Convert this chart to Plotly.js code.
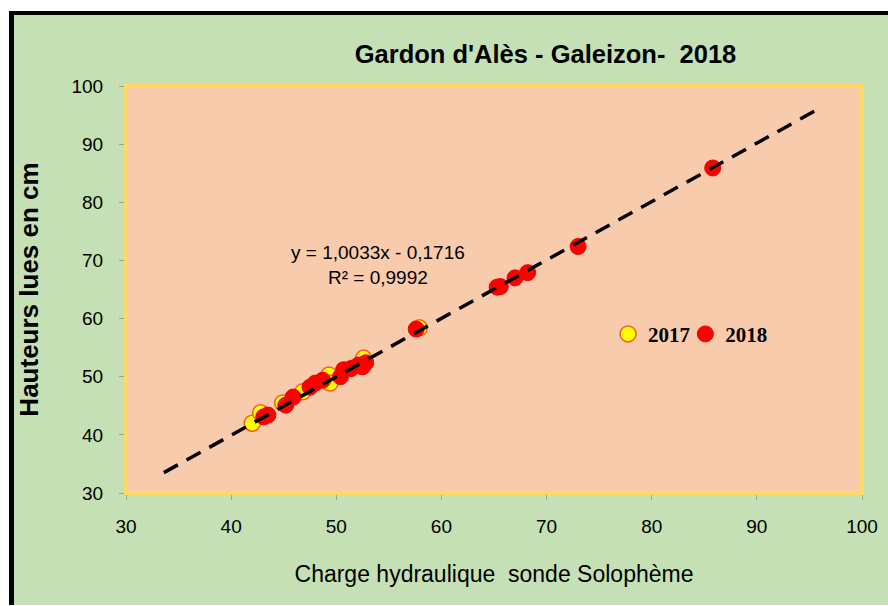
<!DOCTYPE html>
<html>
<head>
<meta charset="utf-8">
<script src="https://cdn.plot.ly/plotly-3.0.1.min.js"></script>
<style>
  html, body { margin: 0; padding: 0; background: #ffffff; width: 888px; height: 606px; overflow: hidden; }
  #frame { position: absolute; left: 9px; top: 11px; width: 879px; height: 594px; box-sizing: border-box;
           background: #C5E0B4; border-left: 5px solid #000; border-top: 4px solid #000; }
  #chart { position: absolute; left: 0; top: 0; width: 888px; height: 606px; }
</style>
</head>
<body>
<div id="frame"></div>
<div id="chart"></div>
<script>
// 2017 series (yellow)
const x2017 = [42.0, 42.8, 44.9, 46.8, 49.3, 49.4, 52.6, 57.9];
const y2017 = [42.0, 43.8, 45.5, 47.4, 50.3, 48.9, 53.2, 58.4];
// 2018 series (red)
const x2018 = [43.1, 43.5, 45.2, 45.9, 47.5, 48.0, 48.7, 50.4, 50.7, 51.4, 52.1, 52.8, 52.5, 57.6, 65.3, 65.6, 67.0, 68.2, 73.0, 85.8];
const y2018 = [43.1, 43.4, 45.1, 46.5, 48.2, 48.9, 49.4, 50.0, 51.2, 51.4, 52.0, 52.4, 51.7, 58.2, 65.4, 65.5, 67.0, 67.9, 72.4, 85.9];
// Linear trend line endpoints (y = 1,0033x - 0,1716)
const trendX = [33.6, 95.8];
const trendY = [33.5, 96.0];
const xTicks = [30, 40, 50, 60, 70, 80, 90, 100];
const yTicks = [30, 40, 50, 60, 70, 80, 90, 100];
const titleText = "Gardon d'Alès - Galeizon-  2018";
const xTitle = "Charge hydraulique  sonde Solophème";
const yTitle = "Hauteurs lues en cm";
const eqText = "y = 1,0033x - 0,1716<br>R² = 0,9992";

const sans = "'Liberation Sans', Arial, sans-serif";
const legFont = { family: "'Liberation Serif', 'Times New Roman', serif", size: 21, color: '#000', weight: 'bold' };

const traces = [
  { x: x2017, y: y2017, type: 'scatter', mode: 'markers', name: '2017', legend: 'legend',
    marker: { color: '#FFFF00', size: 16, line: { color: '#FF5A1F', width: 1.5 } } },
  { x: x2018, y: y2018, type: 'scatter', mode: 'markers', name: '2018', legend: 'legend2',
    marker: { color: '#FF0000', size: 16, line: { color: '#F00000', width: 1 } } },
  { x: trendX, y: trendY, type: 'scatter', mode: 'lines', showlegend: false, hoverinfo: 'skip',
    line: { color: '#000000', width: 3.5, dash: '16px,10px' } }
];

const layout = {
  width: 888, height: 606,
  margin: { l: 126, r: 26, t: 86, b: 113 },
  paper_bgcolor: 'rgba(0,0,0,0)',
  plot_bgcolor: '#F8CBAD',
  showlegend: true,
  legend: {
    x: 0.655, y: 0.39, xanchor: 'left', yanchor: 'middle', orientation: 'h',
    bgcolor: 'rgba(0,0,0,0)', font: legFont, itemwidth: 30
  },
  legend2: {
    x: 0.760, y: 0.39, xanchor: 'left', yanchor: 'middle', orientation: 'h',
    bgcolor: 'rgba(0,0,0,0)', font: legFont, itemwidth: 30
  },
  title: {
    text: titleText, x: 0.57, xref: 'paper', xanchor: 'center', y: 0.91, yref: 'container', yanchor: 'middle',
    font: { family: sans, size: 25.5, color: '#000', weight: 'bold' }
  },
  xaxis: {
    range: [30, 100], tickvals: xTicks, ticktext: xTicks.map(String),
    showgrid: false, zeroline: false, showline: false,
    ticks: 'outside', ticklen: 6, tickcolor: '#A0A0A0', tickwidth: 1,
    ticklabelstandoff: 10,
    tickfont: { family: sans, size: 19, color: '#000' },
    title: { text: xTitle, standoff: 30, font: { family: sans, size: 23, color: '#000' } }
  },
  yaxis: {
    range: [30, 100], tickvals: yTicks, ticktext: yTicks.map(String),
    showgrid: false, zeroline: false, showline: false,
    ticks: 'outside', ticklen: 6, tickcolor: '#A0A0A0', tickwidth: 1,
    ticklabelstandoff: 12,
    tickfont: { family: sans, size: 19, color: '#000' },
    title: { text: yTitle, standoff: 25, font: { family: sans, size: 26, color: '#000', weight: 'bold' } }
  },
  shapes: [
    { type: 'rect', xref: 'paper', yref: 'paper', x0: 0, x1: 1, y0: 0, y1: 1,
      line: { color: '#FFD966', width: 4 }, layer: 'above' }
  ],
  annotations: [
    { x: 54.0, y: 69.2, xref: 'x', yref: 'y', text: eqText, showarrow: false,
      font: { family: sans, size: 19, color: '#000' }, align: 'center' }
  ]
};

Plotly.newPlot('chart', traces, layout, { displayModeBar: false, staticPlot: true });
</script>
</body>
</html>
